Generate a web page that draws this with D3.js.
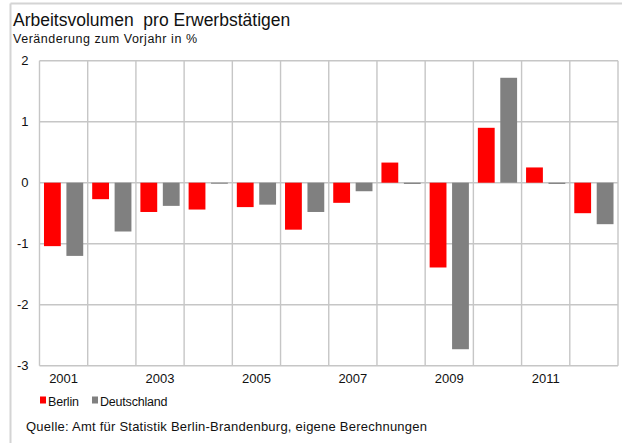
<!DOCTYPE html>
<html>
<head>
<meta charset="utf-8">
<script src="https://cdn.jsdelivr.net/npm/d3@7"></script>
<style>
  html, body { margin: 0; padding: 0; background: #fff; }
  svg { display: block; font-family: "Liberation Sans", Arial, sans-serif; }
  text { white-space: pre; }
</style>
</head>
<body>
<svg id="chart" width="622" height="443"></svg>
<script>
const years = ["2001","2002","2003","2004","2005","2006","2007","2008","2009","2010","2011","2012"];
const seriesNames = ["Berlin", "Deutschland"];
const berlin = [-1.04, -0.27, -0.48, -0.44, -0.40, -0.77, -0.33, 0.33, -1.39, 0.90, 0.25, -0.50];
const deutschland = [-1.20, -0.80, -0.38, -0.01, -0.36, -0.48, -0.14, -0.02, -2.73, 1.72, -0.02, -0.68];
const yTicks = [2, 1, 0, -1, -2, -3];
const xLabels = ["2001","2003","2005","2007","2009","2011"];
const colors = {"Berlin": "#ff0000", "Deutschland": "#808080"};

const svg = d3.select("#chart");
const gridColor = "#c6c6c6";

// outer frame
svg.append("line").attr("x1", 10.5).attr("x2", 622).attr("y1", 3.5).attr("y2", 3.5)
  .attr("stroke", "#d4d4d4").attr("stroke-width", 2);
svg.append("line").attr("x1", 10.5).attr("x2", 10.5).attr("y1", 3.5).attr("y2", 443)
  .attr("stroke", "#d4d4d4").attr("stroke-width", 2);

// titles
svg.append("text").attr("x", 13).attr("y", 26).attr("font-size", 17.5).attr("fill", "#111")
  .text("Arbeitsvolumen  pro Erwerbstätigen");
svg.append("text").attr("x", 13).attr("y", 42.5).attr("font-size", 12.5).attr("fill", "#111")
  .attr("textLength", 184).attr("lengthAdjust", "spacing")
  .text("Veränderung zum Vorjahr in %");

const plotL = 39.5, plotR = 618, plotT = 60.7, plotB = 365.7;
const x = d3.scaleBand().domain(years).range([plotL, plotR]).paddingInner(0).paddingOuter(0);
const xs = d3.scaleBand().domain(seriesNames).range([0, x.bandwidth()]).paddingInner(0.25).paddingOuter(0.2);
const y = d3.scaleLinear().domain([-3, 2]).range([plotB, plotT]);

// horizontal gridlines
svg.append("g").selectAll("line").data(yTicks).join("line")
  .attr("x1", plotL).attr("x2", plotR)
  .attr("y1", d => y(d)).attr("y2", d => y(d))
  .attr("stroke", gridColor).attr("stroke-width", 1.4);

// vertical gridlines at category boundaries
const bounds = years.map(d => x(d)).concat([x(years[years.length - 1]) + x.bandwidth()]);
svg.append("g").selectAll("line").data(bounds).join("line")
  .attr("x1", d => d).attr("x2", d => d)
  .attr("y1", plotT).attr("y2", plotB)
  .attr("stroke", gridColor).attr("stroke-width", 1.4);

// bars
const data = [];
years.forEach((yr, i) => {
  data.push({year: yr, series: "Berlin", value: berlin[i]});
  data.push({year: yr, series: "Deutschland", value: deutschland[i]});
});
svg.append("g").selectAll("rect").data(data).join("rect")
  .attr("x", d => x(d.year) + xs(d.series))
  .attr("width", xs.bandwidth())
  .attr("y", d => Math.min(y(d.value), y(0)))
  .attr("height", d => Math.max(1, Math.abs(y(d.value) - y(0))))
  .attr("fill", d => colors[d.series]);

// y axis labels
svg.append("g").selectAll("text").data(yTicks).join("text")
  .attr("x", 28.5).attr("y", d => y(d)).attr("dy", "0.35em")
  .attr("text-anchor", "end").attr("font-size", 13).attr("fill", "#111")
  .text(d => d);

// x axis labels
svg.append("g").selectAll("text").data(xLabels).join("text")
  .attr("x", d => x(d) + x.bandwidth() / 2).attr("y", 383)
  .attr("text-anchor", "middle").attr("font-size", 13).attr("fill", "#111")
  .text(d => d);

// legend
const legendPos = [{name: "Berlin", x: 40}, {name: "Deutschland", x: 92}];
const lg = svg.append("g").selectAll("g").data(legendPos).join("g");
lg.append("rect").attr("x", d => d.x).attr("y", 396.5).attr("width", 6).attr("height", 7)
  .attr("fill", d => colors[d.name]);
lg.append("text").attr("x", d => d.x + 8).attr("y", 406).attr("font-size", 12.5).attr("fill", "#111")
  .attr("letter-spacing", -0.2)
  .text(d => d.name);

// source
svg.append("text").attr("x", 26).attr("y", 431).attr("font-size", 13).attr("fill", "#111")
  .attr("textLength", 401).attr("lengthAdjust", "spacing")
  .text("Quelle: Amt für Statistik Berlin-Brandenburg, eigene Berechnungen");
</script>
</body>
</html>
